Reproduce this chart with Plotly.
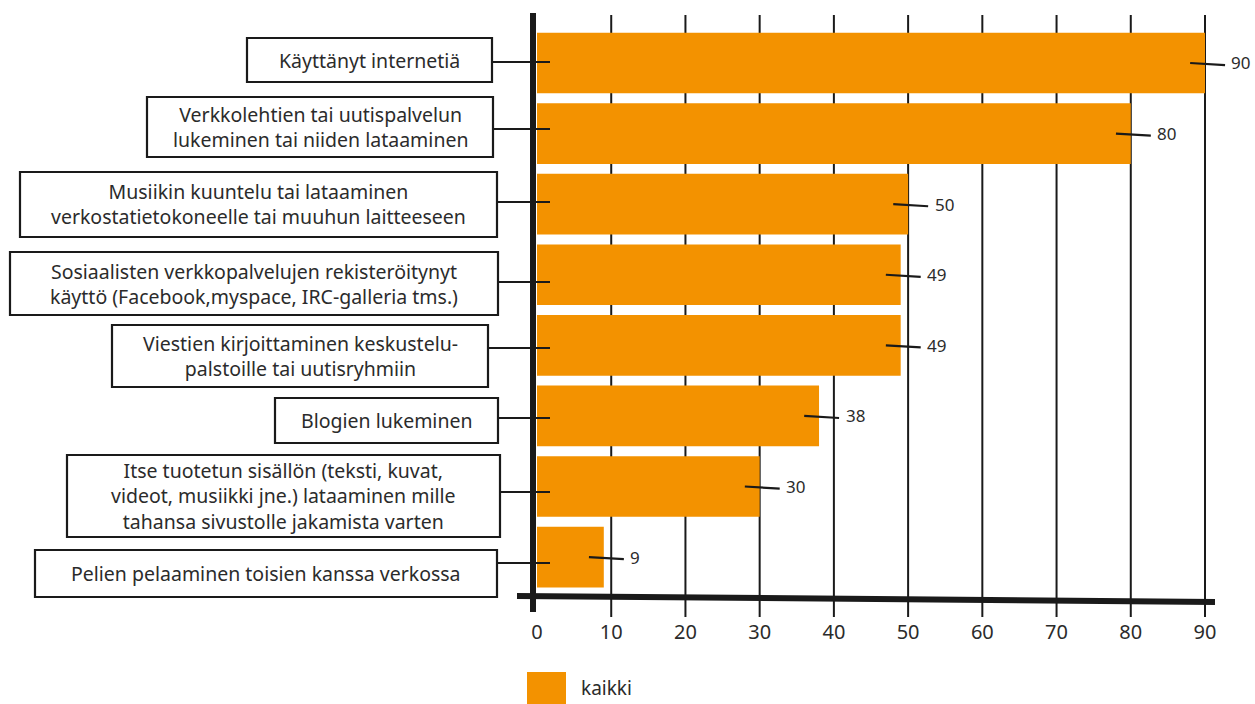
import plotly.graph_objects as go

# Share of respondents (%) per online activity
categories = [
    "Käyttänyt internetiä",
    "Verkkolehtien tai uutispalvelun<br>lukeminen tai niiden lataaminen",
    "Musiikin kuuntelu tai lataaminen<br>verkostatietokoneelle tai muuhun laitteeseen",
    "Sosiaalisten verkkopalvelujen rekisteröitynyt<br>käyttö (Facebook,myspace, IRC-galleria tms.)",
    "Viestien kirjoittaminen keskustelu-<br>palstoille tai uutisryhmiin",
    "Blogien lukeminen",
    "Itse tuotetun sisällön (teksti, kuvat,<br>videot, musiikki jne.) lataaminen mille<br>tahansa sivustolle jakamista varten",
    "Pelien pelaaminen toisien kanssa verkossa",
]
values = [90, 80, 50, 49, 49, 38, 30, 9]
tick_values = [0, 10, 20, 30, 40, 50, 60, 70, 80, 90]
series_name = "kaikki"

W, H = 1255, 704
L, R, T, B = 537, 1205, 15, 598   # plot area in pixels
X_MAX = 90
ORANGE = "#F39200"
INK = "#1a1a1a"
TEXT = "#2b2b2b"
FONT = "Noto Sans"


def px(xp):
    return (xp - L) / (R - L)


def py(yp):
    return (B - yp) / (B - T)


def vx(v):
    """data value on the x axis -> paper coordinate"""
    return v / X_MAX


n = len(categories)
ypos = list(range(n))
Y_RANGE = [7.58, -0.68]


def vy(i):
    """category index -> paper coordinate"""
    return (Y_RANGE[0] - i) / (Y_RANGE[0] - Y_RANGE[1])


fig = go.Figure()
fig.add_trace(go.Bar(
    x=values, y=ypos, orientation="h", width=0.86,
    marker=dict(color=ORANGE, line=dict(width=0)),
    name=series_name, showlegend=False, hoverinfo="x",
))

shapes = []
annotations = []

# label boxes (left, right, top, bottom) in pixels and connector heights
boxes = [
    (247, 492, 38, 82),
    (147, 493, 97, 157),
    (20, 497, 172, 237),
    (10, 498, 252, 315),
    (112, 488, 325, 387),
    (275, 498, 398, 443),
    (67, 500, 455, 537),
    (35, 497, 550, 597),
]
connect_y = [62, 129, 202, 282, 348, 418, 492, 563]

for cat, (x0, x1, y0, y1), cy in zip(categories, boxes, connect_y):
    shapes.append(dict(type="rect", xref="paper", yref="paper",
                       x0=px(x0), x1=px(x1), y0=py(y1), y1=py(y0),
                       line=dict(color=INK, width=2.2), fillcolor="white", layer="above"))
    shapes.append(dict(type="line", xref="paper", yref="paper",
                       x0=px(x1), x1=px(550), y0=py(cy), y1=py(cy),
                       line=dict(color=INK, width=2.2), layer="above"))
    annotations.append(dict(text=cat, xref="paper", yref="paper",
                            x=px((x0 + x1) / 2), y=py((y0 + y1) / 2),
                            xanchor="center", yanchor="middle", showarrow=False,
                            align="center", font=dict(family=FONT, size=19.5, color=TEXT)))

# value callouts: short leader line from inside the bar end to the number
for i, v in enumerate(values):
    shapes.append(dict(type="line", xref="paper", yref="paper",
                       x0=vx(v - 2.0), x1=vx(v + 2.7), y0=vy(i), y1=vy(i + 0.03),
                       line=dict(color=INK, width=2.2), layer="above"))
    annotations.append(dict(text=str(v), xref="paper", yref="paper",
                            x=vx(v + 3.3), y=vy(i),
                            xanchor="left", yanchor="middle", showarrow=False,
                            font=dict(family=FONT, size=17, color=TEXT)))

# grid lines extending past the axis as tick marks
for t in tick_values[1:]:
    shapes.append(dict(type="line", xref="paper", yref="paper", x0=vx(t), x1=vx(t),
                       y0=py(617), y1=py(15),
                       line=dict(color=INK, width=2), layer="below"))

# main axes
shapes.append(dict(type="line", xref="paper", yref="paper",
                   x0=px(533), x1=px(533), y0=py(612), y1=py(13),
                   line=dict(color=INK, width=6), layer="above"))
shapes.append(dict(type="line", xref="paper", yref="paper",
                   x0=px(517), x1=px(1215), y0=py(596), y1=py(602),
                   line=dict(color=INK, width=6), layer="above"))

# legend swatch
shapes.append(dict(type="rect", xref="paper", yref="paper",
                   x0=px(527), x1=px(566), y0=py(710), y1=py(672),
                   line=dict(width=0), fillcolor=ORANGE))
annotations.append(dict(text=series_name, xref="paper", yref="paper",
                        x=px(579), y=py(688), xanchor="left", yanchor="middle",
                        showarrow=False, font=dict(family=FONT, size=19, color=TEXT)))

fig.update_layout(
    width=W, height=H,
    margin=dict(l=L, r=W - R, t=T, b=H - B),
    paper_bgcolor="white", plot_bgcolor="white",
    shapes=shapes, annotations=annotations,
    showlegend=False,
    bargap=0.14,
)
fig.update_xaxes(
    range=[0, X_MAX], tickvals=tick_values, showgrid=False, zeroline=False,
    showline=False, ticks="", ticklabelstandoff=20,
    tickfont=dict(family=FONT, size=20, color=TEXT),
)
fig.update_yaxes(
    range=Y_RANGE, showticklabels=False, showgrid=False,
    zeroline=False, showline=False, ticks="",
)

fig.write_html("out.html")
